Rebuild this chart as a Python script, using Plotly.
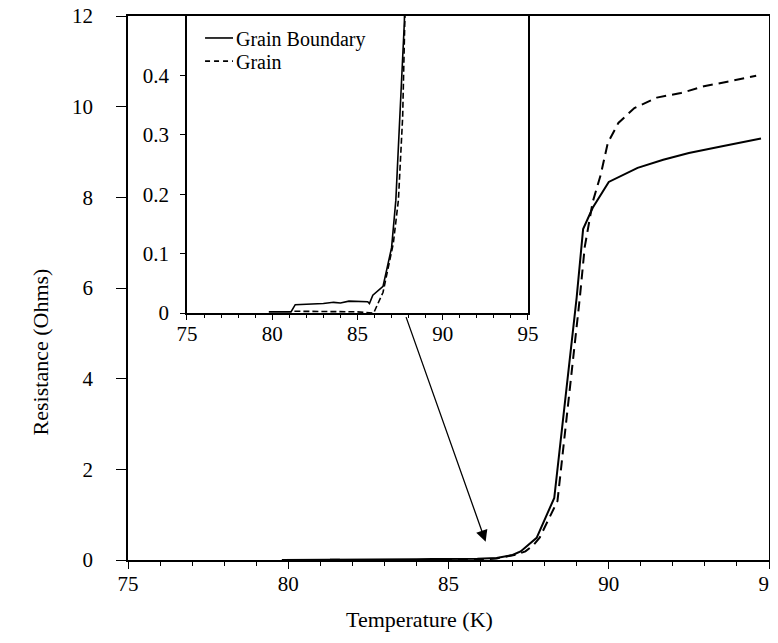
import plotly.graph_objects as go

# Data (Temperature in K, Resistance in Ohms)
temp_gb = [79.8, 81.1, 81.35, 82.4, 83.0, 83.6, 84.0, 84.5, 85.0, 85.6, 85.7, 85.9, 86.5,
           87.0, 87.25, 87.5, 87.75, 88.3, 89.0, 89.2, 89.5, 90.0, 90.9, 91.7, 92.5,
           93.5, 94.1, 94.75]
res_gb = [0.002, 0.002, 0.014, 0.015, 0.016, 0.018, 0.017, 0.02, 0.019, 0.019, 0.016, 0.03, 0.045,
          0.11, 0.19, 0.33, 0.49, 1.37, 5.8, 7.3, 7.77, 8.34, 8.65, 8.83, 8.98,
          9.12, 9.2, 9.3]

temp_g = [81.3, 83.0, 85.0, 85.95, 86.5, 87.1, 87.4, 87.65, 87.85, 88.4, 89.1, 89.25,
          89.5, 89.75, 89.97, 90.3, 90.8, 91.5, 92.25, 92.97, 93.7, 94.6]
res_g = [0.003, 0.003, 0.002, 0.0, 0.035, 0.117, 0.19, 0.33, 0.5, 1.3, 5.8, 6.9,
         7.9, 8.5, 9.2, 9.64, 9.97, 10.2, 10.3, 10.45, 10.55, 10.68]

x_ticks = [75, 80, 85, 90, 95]
y_ticks_main = [0, 2, 4, 6, 8, 10, 12]
y_ticks_inset = [0, 0.1, 0.2, 0.3, 0.4]

series_names = ["Grain Boundary", "Grain"]

FONT = "Liberation Serif, Times New Roman, serif"
BLACK = "#000000"
MAIN_DASH = "10px,6px"
INSET_DASH = "6px,3px"

fig = go.Figure()

# main plot
fig.add_trace(go.Scatter(x=temp_gb, y=res_gb, mode="lines", name=series_names[0],
                         line=dict(color=BLACK, width=2, dash="solid"),
                         xaxis="x", yaxis="y", showlegend=False))
fig.add_trace(go.Scatter(x=temp_g, y=res_g, mode="lines", name=series_names[1],
                         line=dict(color=BLACK, width=2, dash=MAIN_DASH),
                         xaxis="x", yaxis="y", showlegend=False))
# inset
fig.add_trace(go.Scatter(x=temp_gb, y=res_gb, mode="lines", name=series_names[0],
                         line=dict(color=BLACK, width=1.6, dash="solid"),
                         xaxis="x2", yaxis="y2", showlegend=False))
fig.add_trace(go.Scatter(x=temp_g, y=res_g, mode="lines", name=series_names[1],
                         line=dict(color=BLACK, width=1.6, dash=INSET_DASH),
                         xaxis="x2", yaxis="y2", showlegend=False))

def axis_common(size):
    return dict(showgrid=False, zeroline=False, showline=True, linecolor=BLACK,
                linewidth=1.5, mirror=True, ticks="outside", tickcolor=BLACK,
                tickwidth=1.3, ticklabeloverflow="allow", automargin=False,
                tickfont=dict(family=FONT, size=size, color=BLACK))

# legend (drawn inside the inset, top-left)
LEG_Y = [0.926, 0.848]
legend_shapes = [
    dict(type="line", xref="x2 domain", yref="y2 domain", x0=0.053, x1=0.135,
         y0=LEG_Y[0], y1=LEG_Y[0], line=dict(color=BLACK, width=1.6, dash="solid")),
    dict(type="line", xref="x2 domain", yref="y2 domain", x0=0.053, x1=0.135,
         y0=LEG_Y[1], y1=LEG_Y[1], line=dict(color=BLACK, width=1.6, dash="5px,4px")),
]
legend_texts = [
    dict(text=series_names[i], xref="x2 domain", yref="y2 domain", x=0.137, y=LEG_Y[i] - 0.004,
         xanchor="left", yanchor="middle", showarrow=False,
         font=dict(family=FONT, size=20, color=BLACK))
    for i in range(2)
]

fig.update_layout(
    width=770, height=635,
    margin=dict(l=120, r=9, t=8, b=83, autoexpand=False),
    paper_bgcolor="white", plot_bgcolor="white",
    font=dict(family=FONT, color=BLACK),
    showlegend=False,
    xaxis=dict(domain=[0, 1], range=[75, 95], tickvals=x_ticks, ticklen=7,
               ticklabelstandoff=-3,
               minor=dict(dtick=1, ticks="outside", ticklen=4, tickcolor=BLACK, tickwidth=1.2),
               anchor="y", **axis_common(21)),
    yaxis=dict(domain=[0, 1], range=[0, 12], tickvals=y_ticks_main, ticklen=10,
               ticklabelstandoff=19, anchor="x", **axis_common(21)),
    xaxis2=dict(domain=[0.092, 0.624], range=[75, 95], tickvals=x_ticks, ticklen=5,
                ticklabelstandoff=-4,
                minor=dict(dtick=1, ticks="outside", ticklen=3, tickcolor=BLACK, tickwidth=1.2),
                anchor="y2", **axis_common(21)),
    yaxis2=dict(domain=[0.454, 1], range=[0, 0.5], tickvals=y_ticks_inset, ticklen=5,
                ticklabelstandoff=7, anchor="x2", **axis_common(21)),
    shapes=legend_shapes,
    annotations=legend_texts + [
        dict(text="Temperature (K)", xref="paper", yref="paper", x=0.455, y=-0.110,
             showarrow=False, font=dict(family=FONT, size=22, color=BLACK),
             xanchor="center", yanchor="middle"),
        dict(text="Resistance (Ohms)", xref="paper", yref="paper", x=-0.137, y=0.382,
             showarrow=False, textangle=-90, font=dict(family=FONT, size=22, color=BLACK),
             xanchor="center", yanchor="middle"),
        dict(text="", xref="x", yref="y", x=86.16, y=0.40, axref="x", ayref="y",
             ax=83.66, ay=5.39, showarrow=True, arrowhead=2, arrowsize=1.8,
             arrowwidth=1.3, arrowcolor=BLACK),
    ],
)

fig.write_html("out.html")
